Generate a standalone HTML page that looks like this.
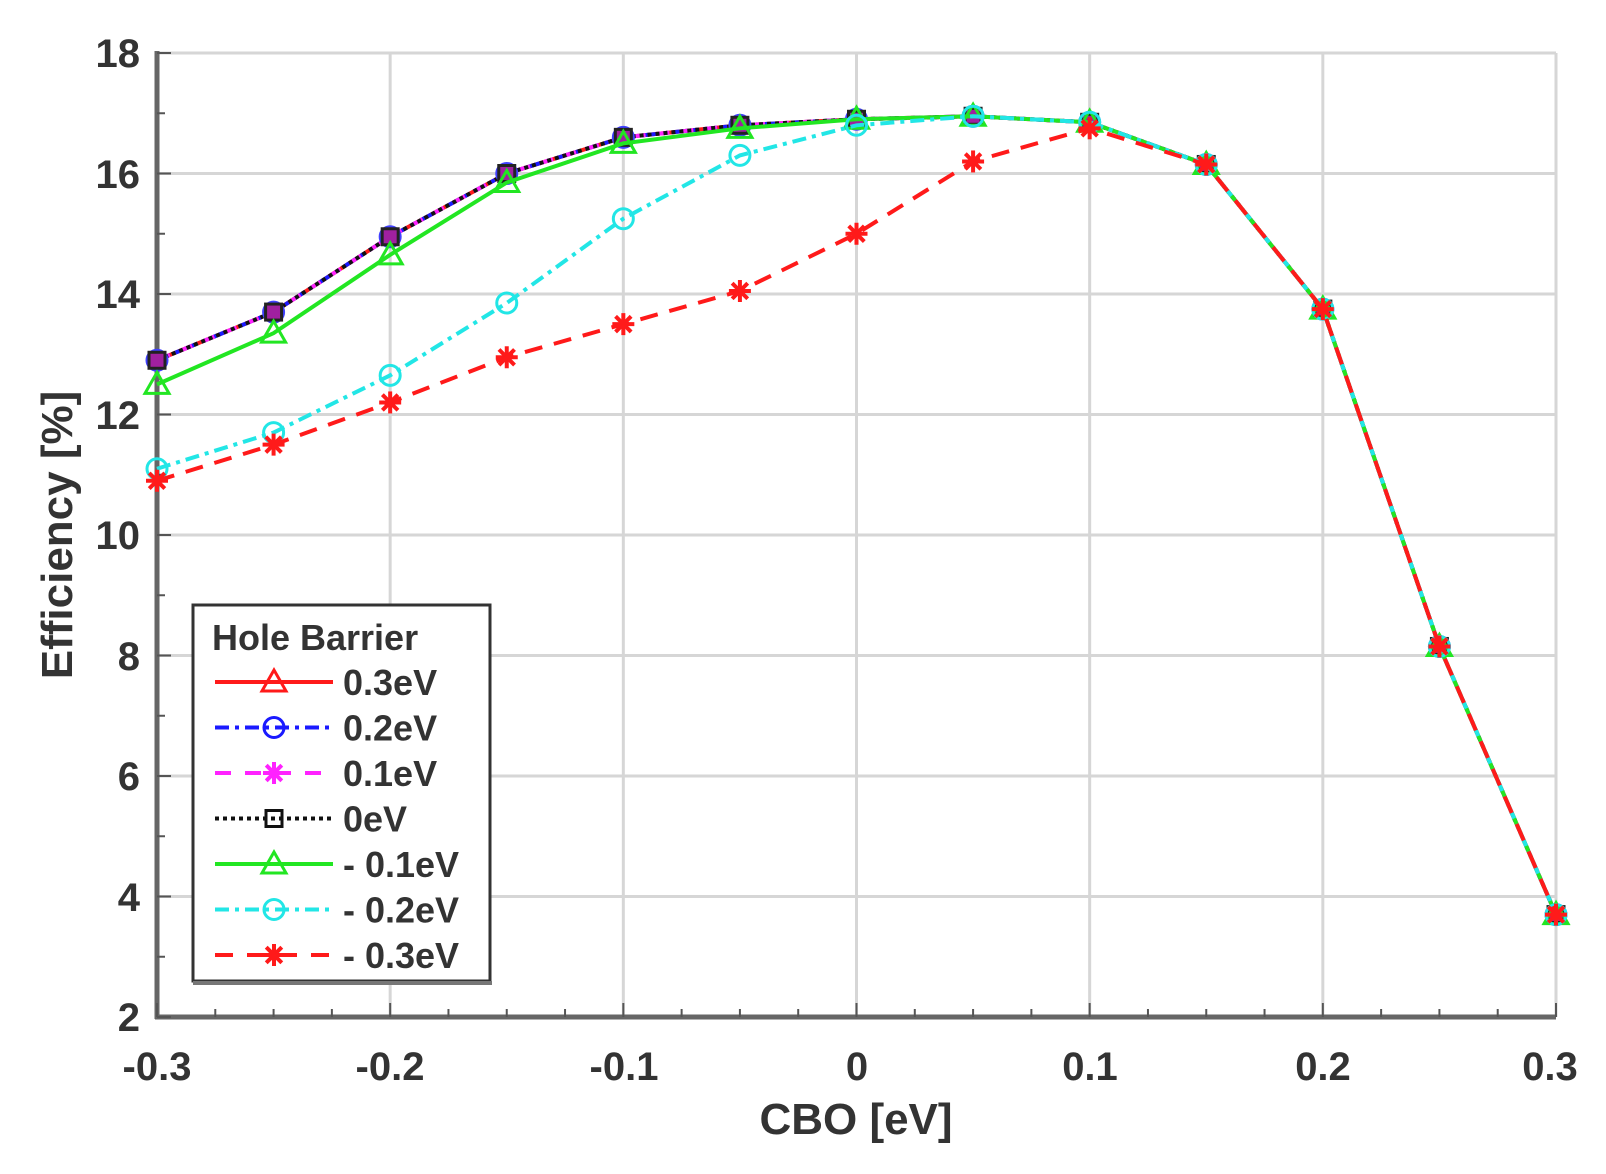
<!DOCTYPE html>
<html><head><meta charset="utf-8"><style>
html,body{margin:0;padding:0;background:#fff}
svg{display:block}
text{font-family:"Liberation Sans",Arial,sans-serif;font-weight:bold;fill:#333}
</style></head><body>
<svg id="s" width="1606" height="1174" viewBox="0 0 1606 1174" xmlns="http://www.w3.org/2000/svg">
<g id="grid" stroke="#d6d6d6" stroke-width="3"></g>
<g id="axes"></g>
<g id="series"></g>
<g font-size="40" text-anchor="end">
<text x="140" y="67">18</text><text x="140" y="188">16</text><text x="140" y="308">14</text>
<text x="140" y="429">12</text><text x="140" y="549">10</text><text x="140" y="670">8</text>
<text x="140" y="790">6</text><text x="140" y="911">4</text><text x="140" y="1031">2</text>
</g>
<g font-size="40" text-anchor="middle">
<text x="157" y="1080">-0.3</text><text x="390" y="1080">-0.2</text><text x="624" y="1080">-0.1</text>
<text x="857" y="1080">0</text><text x="1090" y="1080">0.1</text><text x="1323" y="1080">0.2</text>
<text x="1550" y="1080">0.3</text>
</g>
<text x="856" y="1134" font-size="44" text-anchor="middle">CBO [eV]</text>
<text transform="translate(72,535) rotate(-90)" font-size="44" text-anchor="middle">Efficiency [%]</text>
<g id="legend"></g>
</svg>
<script>
(function(){
const X0=157,X1=1556,Y18=53,Y2=1017;
const sx=v=>X0+(v+0.3)/0.6*(X1-X0), sy=v=>Y2-(v-2)/16*(Y2-Y18);
const NS="http://www.w3.org/2000/svg";
function el(p,t,a){const e=document.createElementNS(NS,t);for(const k in a)e.setAttribute(k,a[k]);p.appendChild(e);return e;}
const G=document.getElementById('grid'),A=document.getElementById('axes'),S=document.getElementById('series'),LG=document.getElementById('legend');
for(let i=0;i<=6;i++){const x=sx(-0.3+i*0.1);el(G,'line',{x1:x,x2:x,y1:Y18,y2:Y2});}
for(let v=4;v<=18;v+=2){const y=sy(v);el(G,'line',{x1:X0,x2:X1,y1:y,y2:y});}
el(A,'line',{x1:X0,x2:X0,y1:Y18-2,y2:Y2+2,stroke:'#666','stroke-width':5});
el(A,'line',{x1:X0-2,x2:X1,y1:Y2,y2:Y2,stroke:'#666','stroke-width':5});
for(let i=0;i<=24;i++){const x=sx(-0.3+i*0.025);const len=i%4==0?14:8;el(A,'line',{x1:x,x2:x,y1:Y2,y2:Y2-len,stroke:'#555','stroke-width':2});}
for(let v=2;v<=18;v++){const y=sy(v);const len=v%2==0?14:8;el(A,'line',{x1:X0,x2:X0+len,y1:y,y2:y,stroke:'#555','stroke-width':2});}
const xs=[];for(let i=0;i<13;i++)xs.push(-0.3+i*0.05);
const topS=[12.9,13.7,14.95,16.0,16.6,16.8,16.9,16.95,16.85,16.15,13.75,8.15,3.7];
const grn=[12.5,13.35,14.65,15.85,16.5,16.75,16.9,16.95,16.85,16.15,13.75,8.15,3.7];
const cyn=[11.1,11.7,12.65,13.85,15.25,16.3,16.8,16.95,16.85,16.15,13.75,8.15,3.7];
const red=[10.9,11.5,12.2,12.95,13.5,14.05,15.0,16.2,16.75,16.15,13.75,8.15,3.7];
function pts(d){return d.map((v,i)=>sx(xs[i])+','+sy(v)).join(' ');}
function line(d,c,dash){el(S,'polyline',{points:pts(d),fill:'none',stroke:c,'stroke-width':4,'stroke-dasharray':dash||'none'});}
function tri(p,x,y,c){el(p,'polygon',{points:`${x},${y-12} ${x-12},${y+9} ${x+12},${y+9}`,fill:'none',stroke:c,'stroke-width':3});}
function circ(p,x,y,c){el(p,'circle',{cx:x,cy:y,r:10,fill:'none',stroke:c,'stroke-width':3});}
function sq(p,x,y,c,f){el(p,'rect',{x:x-8,y:y-8,width:16,height:16,fill:f||'none',stroke:c,'stroke-width':3});}
function star(p,x,y,c){for(let a=0;a<4;a++){const t=a*Math.PI/4;el(p,'line',{x1:x-11*Math.cos(t),y1:y-11*Math.sin(t),x2:x+11*Math.cos(t),y2:y+11*Math.sin(t),stroke:c,'stroke-width':4});}}
function marks(d,f,c,fill){d.forEach((v,i)=>f(S,sx(xs[i]),sy(v),c,fill));}
line(topS,'#ff1a1a');line(topS,'#1a1aff','14 6 4 6');line(topS,'#ff22ff','14 10');line(topS,'#111','4 4');
marks(topS,circ,'#4040ff');marks(topS,sq,'#222','#a020a0');
line(grn,'#22e622');marks(grn,tri,'#22e622');
line(cyn,'#22e6e6','14 6 4 6');marks(cyn,circ,'#22e6e6');
line(red,'#ff1a1a','18 12');marks(red,star,'#ff1a1a');
el(LG,'rect',{x:193,y:605,width:297,height:376,fill:'#fff',stroke:'#333','stroke-width':3});
el(LG,'line',{x1:193,y1:983,x2:492,y2:983,stroke:'#777','stroke-width':4});
const t=el(LG,'text',{x:212,y:650,'font-size':36,fill:'#111'});t.textContent='Hole Barrier';
const rows=[['0.3eV','#ff1a1a','none',tri],['0.2eV','#1a1aff','14 6 4 6',circ],['0.1eV','#ff22ff','16 14',star],['0eV','#111','4 4',sq],['- 0.1eV','#22e622','none',tri],['- 0.2eV','#22e6e6','14 6 4 6',circ],['- 0.3eV','#ff1a1a','18 14',star]];
rows.forEach((r,i)=>{const y=682+i*45.5;
el(LG,'line',{x1:215,x2:333,y1:y,y2:y,stroke:r[1],'stroke-width':4,'stroke-dasharray':r[2]});
r[3](LG,274,y,r[1]);
const tt=el(LG,'text',{x:343,y:y+13,'font-size':36,fill:'#111'});tt.textContent=r[0];});
})();
</script>
</body></html>
